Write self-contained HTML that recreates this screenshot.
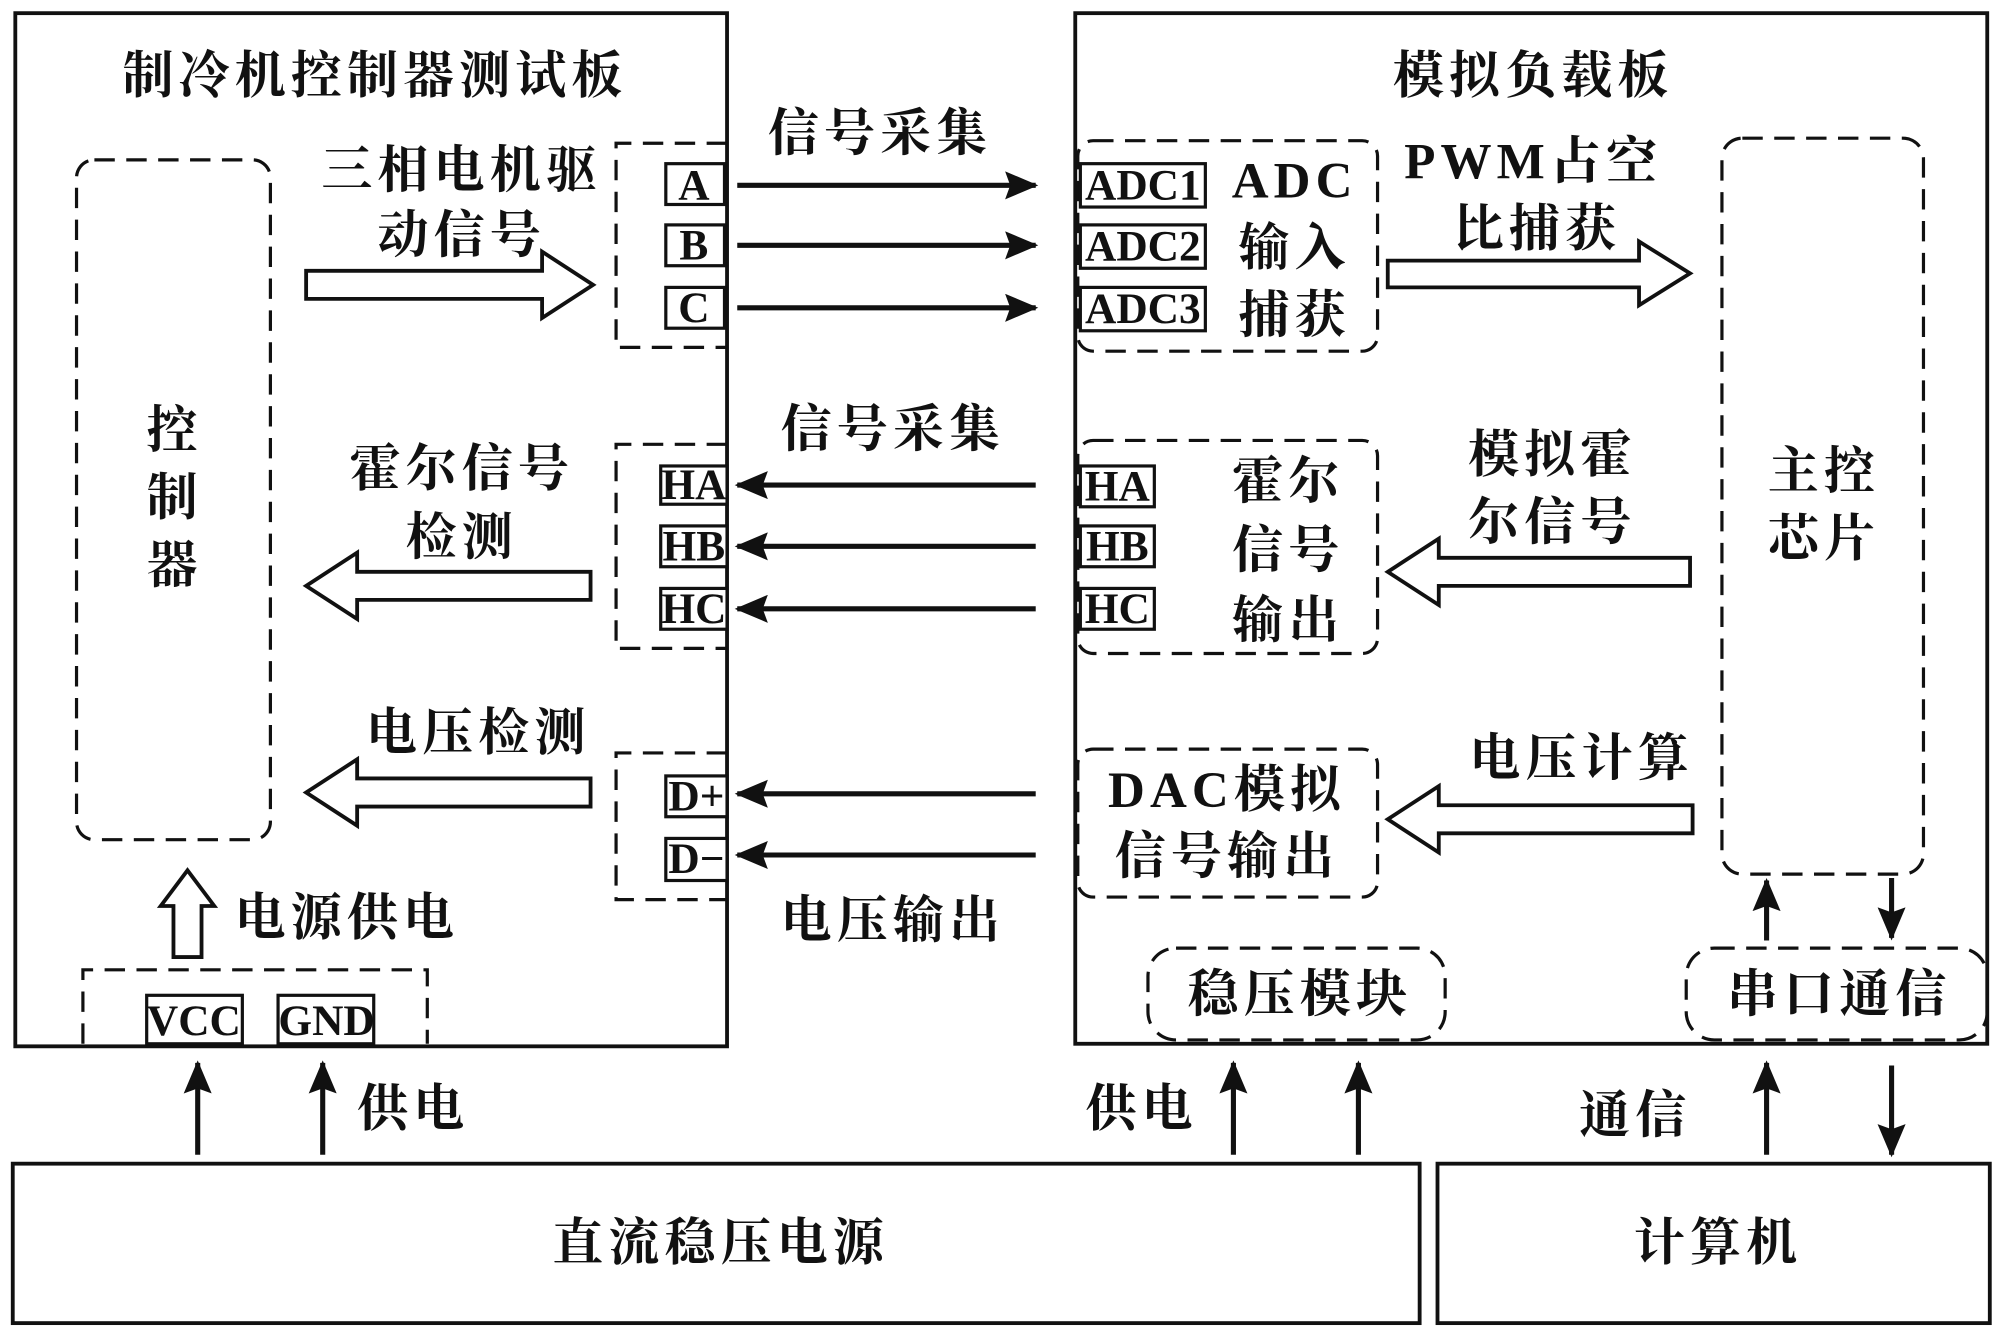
<!DOCTYPE html>
<html><head><meta charset="utf-8"><style>
html,body{margin:0;padding:0;background:#fff}
svg{display:block}
text{font-family:"Liberation Serif","Noto Serif CJK SC",serif;fill:#111;text-anchor:middle;dominant-baseline:central;font-weight:bold}
</style></head><body>
<svg width="2000" height="1335" viewBox="0 0 1568 1046" xmlns="http://www.w3.org/2000/svg">
<defs>
<marker id="ah" markerWidth="26" markerHeight="22" refX="24" refY="11" orient="auto" markerUnits="userSpaceOnUse" viewBox="0 0 26 22"><path d="M0,0 L26,11 L0,22 L4,11 Z" fill="#111"/></marker>
</defs>
<g fill="none" stroke="#111" stroke-width="3">
<rect x="12" y="10" width="558" height="810"/>
<rect x="843" y="10" width="715" height="808"/>
<rect x="10" y="912" width="1103" height="125"/>
<rect x="1127" y="912" width="433" height="125"/>
</g>
<g fill="none" stroke="#111" stroke-width="2.5" stroke-dasharray="16,9">
<rect x="60" y="125" width="152" height="533" rx="14"/>
<path d="M570,112 H483 V272 H570"/>
<path d="M570,348 H483 V508 H570"/>
<path d="M570,590 H483 V705 H570"/>
<rect x="845" y="110" width="235" height="165" rx="12"/>
<rect x="845" y="345" width="235" height="167" rx="12"/>
<rect x="845" y="587" width="235" height="116" rx="12"/>
<rect x="1350" y="108" width="158" height="577" rx="16"/>
<path d="M65,818 V760 H335 V818"/>
<rect x="900" y="743" width="233" height="72" rx="22"/>
<rect x="1322" y="743" width="236" height="72" rx="22"/>
</g>
<g fill="#fff" stroke="#111" stroke-width="2.5">
<rect x="522" y="128" width="46" height="32"/>
<rect x="522" y="176" width="46" height="32"/>
<rect x="522" y="225" width="46" height="32"/>
<rect x="518" y="365" width="52" height="30"/>
<rect x="518" y="412" width="52" height="32"/>
<rect x="518" y="461" width="52" height="32"/>
<rect x="522" y="608" width="48" height="32"/>
<rect x="522" y="657" width="48" height="33"/>
<rect x="847" y="128" width="98" height="34"/>
<rect x="847" y="176" width="98" height="34"/>
<rect x="847" y="225" width="98" height="34"/>
<rect x="847" y="365" width="58" height="32"/>
<rect x="847" y="412" width="58" height="32"/>
<rect x="847" y="461" width="58" height="32"/>
<rect x="115" y="780" width="75" height="38"/>
<rect x="218" y="780" width="75" height="38"/>
</g>
<g stroke="#111" stroke-width="4" marker-end="url(#ah)" fill="none">
<line x1="578" y1="145" x2="812" y2="145"/>
<line x1="578" y1="192" x2="812" y2="192"/>
<line x1="578" y1="241" x2="812" y2="241"/>
<line x1="812" y1="380" x2="578" y2="380"/>
<line x1="812" y1="428" x2="578" y2="428"/>
<line x1="812" y1="477" x2="578" y2="477"/>
<line x1="812" y1="622" x2="578" y2="622"/>
<line x1="812" y1="670" x2="578" y2="670"/>
<line x1="155" y1="905" x2="155" y2="833"/>
<line x1="253" y1="905" x2="253" y2="833"/>
<line x1="967" y1="905" x2="967" y2="833"/>
<line x1="1065" y1="905" x2="1065" y2="833"/>
<line x1="1385" y1="905" x2="1385" y2="833"/>
<line x1="1483" y1="835" x2="1483" y2="905"/>
<line x1="1385" y1="737" x2="1385" y2="690"/>
<line x1="1483" y1="688" x2="1483" y2="735"/>
</g>
<g fill="#fff" stroke="#111" stroke-width="3">
<path d="M240,212 H425 V197 L465,223 L425,249 V234 H240 Z"/>
<path d="M463,448 H280 V433 L240,459 L280,485 V470 H463 Z"/>
<path d="M463,610 H280 V595 L240,621 L280,647 V632 H463 Z"/>
<path d="M1088,204 H1285 V189 L1325,214 L1285,239 V225 H1088 Z"/>
<path d="M1325,437 H1128 V422 L1088,448 L1128,474 V459 H1325 Z"/>
<path d="M1327,631 H1128 V616 L1088,642 L1128,668 V653 H1327 Z"/>
<path d="M136,750 V710 H126 L147,682 L168,710 H158 V750 Z"/>
</g>
<g font-size="40" letter-spacing="4">
<text x="294" y="60">制冷机控制器测试板</text>
<text x="1202" y="60">模拟负载板</text>
<text x="137" y="338">控</text><text x="137" y="391">制</text><text x="137" y="444">器</text>
<text x="362" y="134">三相电机驱</text><text x="362" y="185">动信号</text>
<text x="690" y="105">信号采集</text>
<text x="1015" y="142">ADC</text><text x="1015" y="195">输入</text><text x="1015" y="248">捕获</text>
<text x="1202" y="127">PWM占空</text><text x="1205" y="180">比捕获</text>
<text x="1430" y="370">主控</text><text x="1430" y="423">芯片</text>
<text x="362" y="368">霍尔信号</text><text x="362" y="422">检测</text>
<text x="700" y="337">信号采集</text>
<text x="1010" y="378">霍尔</text><text x="1010" y="432">信号</text><text x="1010" y="487">输出</text>
<text x="1217" y="357">模拟霍</text><text x="1217" y="410">尔信号</text>
<text x="375" y="575">电压检测</text>
<text x="700" y="722">电压输出</text>
<text x="962" y="620">DAC模拟</text><text x="962" y="672">信号输出</text>
<text x="1240" y="595">电压计算</text>
<text x="272" y="720">电源供电</text>
<text x="1019" y="780">稳压模块</text>
<text x="1442" y="780">串口通信</text>
<text x="324" y="870">供电</text>
<text x="895" y="870">供电</text>
<text x="1282" y="875">通信</text>
<text x="565" y="975">直流稳压电源</text>
<text x="1347" y="975">计算机</text>
</g>
<g font-size="34" style="font-weight:normal">
<text x="544" y="145">A</text><text x="544" y="192">B</text><text x="544" y="241">C</text>
<text x="544" y="380">HA</text><text x="544" y="428">HB</text><text x="544" y="477">HC</text>
<text x="546" y="624">D+</text><text x="546" y="673">D−</text>
<text x="896" y="145">ADC1</text><text x="896" y="193">ADC2</text><text x="896" y="242">ADC3</text>
<text x="876" y="381">HA</text><text x="876" y="428">HB</text><text x="876" y="477">HC</text>
<text x="152" y="800">VCC</text><text x="256" y="800">GND</text>
</g>
</svg>
</body></html>
